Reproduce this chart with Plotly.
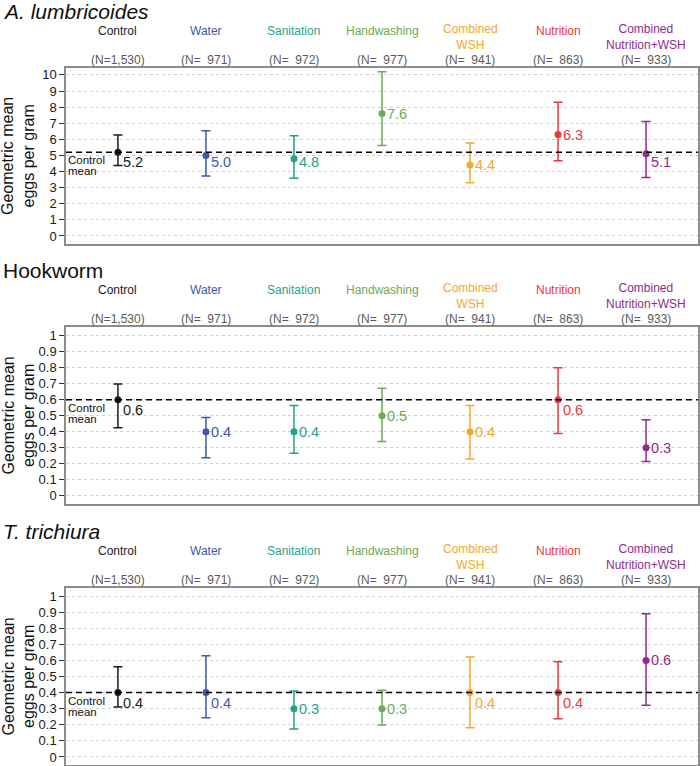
import plotly.graph_objects as go

# ---------------- data ----------------
categories = ["Control", "Water", "Sanitation", "Handwashing",
              "Combined<br>WSH", "Nutrition", "Combined<br>Nutrition+WSH"]
n_obs = [1530, 971, 972, 977, 941, 863, 933]
colors = ["#1a1a1a", "#3b5ba5", "#1fa38c", "#6aab55", "#f2a82e", "#e5393f", "#8e2b8c"]

panel_titles = ["<i>A. lumbricoides</i>", "Hookworm", "<i>T. trichiura</i>"]

asc_gm = [5.2, 5.0, 4.8, 7.6, 4.4, 6.3, 5.1]
asc_lo = [4.38, 3.73, 3.59, 5.62, 3.30, 4.67, 3.63]
asc_hi = [6.27, 6.54, 6.22, 10.19, 5.77, 8.30, 7.10]

hook_gm = [0.6, 0.4, 0.4, 0.5, 0.4, 0.6, 0.3]
hook_lo = [0.425, 0.237, 0.265, 0.338, 0.229, 0.388, 0.213]
hook_hi = [0.698, 0.488, 0.563, 0.671, 0.563, 0.800, 0.475]

tt_gm = [0.4, 0.4, 0.3, 0.3, 0.4, 0.4, 0.6]
tt_lo = [0.311, 0.244, 0.174, 0.199, 0.182, 0.238, 0.321]
tt_hi = [0.561, 0.629, 0.410, 0.414, 0.621, 0.592, 0.890]

asc_ticks = list(range(0, 11))
frac_ticks = [0, 0.1, 0.2, 0.3, 0.4, 0.5, 0.6, 0.7, 0.8, 0.9, 1]

panels = [
    (asc_gm, asc_lo, asc_hi, asc_ticks, [-0.5, 10.43]),
    (hook_gm, hook_lo, hook_hi, frac_ticks, [-0.052, 1.054]),
    (tt_gm, tt_lo, tt_hi, frac_ticks, [-0.05, 1.05]),
]

# ---------------- layout geometry (pixels) ----------------
W, H = 700, 766
box_top = [68, 327, 588]
box_bot = [244, 504, 765]
box_left, box_right = 66, 698
FONT = "Liberation Sans, Arial, Helvetica, sans-serif"


def py(p):
    return 1 - p / H


def px(p):
    return p / W


fig = go.Figure()
annotations = []
shapes = []
layout_axes = {}

for i, (gm, lo, hi, ticks, yr) in enumerate(panels):
    xn = "x" if i == 0 else f"x{i+1}"
    yn = "y" if i == 0 else f"y{i+1}"
    xkey = "xaxis" if i == 0 else f"xaxis{i+1}"
    ykey = "yaxis" if i == 0 else f"yaxis{i+1}"
    xs = list(range(1, len(categories) + 1))
    ctrl = gm[0]

    for j, cat in enumerate(categories):
        fig.add_trace(go.Scatter(
            x=[xs[j]], y=[gm[j]], xaxis=xn, yaxis=yn, mode="markers",
            marker=dict(color=colors[j], size=7),
            error_y=dict(type="data", symmetric=False,
                         array=[hi[j] - gm[j]], arrayminus=[gm[j] - lo[j]],
                         color=colors[j], thickness=1.5, width=4.5),
            showlegend=False, hoverinfo="skip"))

    layout_axes[xkey] = dict(
        domain=[px(box_left), px(box_right)], range=[0.41, 7.59],
        anchor=yn, showgrid=False, zeroline=False, showticklabels=False,
        ticks="", showline=True, mirror=True, linecolor="#8c8c8c", linewidth=1.5)
    layout_axes[ykey] = dict(
        domain=[py(box_bot[i]), py(box_top[i])], range=yr, anchor=xn,
        tickmode="array", tickvals=ticks,
        ticks="outside", ticklen=5, tickwidth=1, tickcolor="#333333",
        tickfont=dict(size=13, color="#1a1a1a", family=FONT),
        showgrid=True, gridcolor="#d0d0d0", griddash="dot", gridwidth=1,
        zeroline=False, showline=True, mirror=True,
        linecolor="#8c8c8c", linewidth=1.5)

    # control mean dashed line
    shapes.append(dict(type="line", xref=f"{xn} domain", x0=0, x1=1,
                       yref=yn, y0=ctrl, y1=ctrl, layer="above",
                       line=dict(color="black", width=1.5, dash="6px,4px")))
    # "Control mean" text
    annotations.append(dict(xref="paper", yref=yn, x=px(box_left + 1), y=ctrl,
                            yshift=-8, text="Control", showarrow=False,
                            xanchor="left", yanchor="middle", borderpad=0,
                            font=dict(size=11.5, color="#111111", family=FONT)))
    annotations.append(dict(xref="paper", yref=yn, x=px(box_left + 1), y=ctrl,
                            yshift=-19, text="mean", showarrow=False,
                            xanchor="left", yanchor="middle", borderpad=0,
                            font=dict(size=11.5, color="#111111", family=FONT)))

    # value labels, pushed below the dashed line if they would touch it
    ppu = (box_bot[i] - box_top[i]) / (yr[1] - yr[0])
    delta = 10 / ppu
    for j in range(len(categories)):
        if abs(gm[j] - ctrl) < delta:
            ylab = min(gm[j], ctrl - delta)
        else:
            ylab = gm[j]
        annotations.append(dict(xref=xn, yref=yn, x=xs[j], y=ylab, xshift=3,
                                text=f"{gm[j]:.1f}", showarrow=False,
                                xanchor="left", yanchor="middle",
                                font=dict(size=14.5, color=colors[j], family=FONT)))

    # category labels and N labels
    for j, cat in enumerate(categories):
        nlines = cat.count("<br>") + 1
        annotations.append(dict(xref=xn, yref="paper", x=xs[j],
                                y=py(box_top[i] - 37 + 5.5 * (nlines - 1)),
                                text=cat, showarrow=False, borderpad=0,
                                xanchor="center", yanchor="middle",
                                font=dict(size=12, color=colors[j], family=FONT)))
        ntxt = f"(N={n_obs[j]:>5,})".replace(" ", "\u00a0")
        annotations.append(dict(xref=xn, yref="paper", x=xs[j],
                                y=py(box_top[i] - 8), text=ntxt, showarrow=False,
                                xanchor="center", yanchor="middle", borderpad=0,
                                font=dict(size=12, color="#5a5a5a", family=FONT)))

    # panel title
    annotations.append(dict(xref="paper", yref="paper", x=px(1),
                            y=py(box_top[i] - 57), text=panel_titles[i],
                            showarrow=False, xanchor="left", yanchor="middle",
                            font=dict(size=21, color="#111111", family=FONT)))
    # y-axis title
    annotations.append(dict(xref="paper", yref="paper", x=px(18),
                            y=py((box_top[i] + box_bot[i]) / 2),
                            text="Geometric mean<br>eggs per gram", textangle=-90,
                            showarrow=False, xanchor="center", yanchor="middle",
                            borderpad=0,
                            font=dict(size=16, color="#111111", family=FONT)))

fig.update_layout(
    width=W, height=H, margin=dict(l=0, r=0, t=0, b=0),
    paper_bgcolor="white", plot_bgcolor="white",
    font=dict(family=FONT), annotations=annotations, shapes=shapes,
    showlegend=False, **layout_axes)

fig.write_html("out.html", config={"displayModeBar": False},
               post_script="document.body.style.margin='0';"
                           "document.body.style.overflow='hidden';")
